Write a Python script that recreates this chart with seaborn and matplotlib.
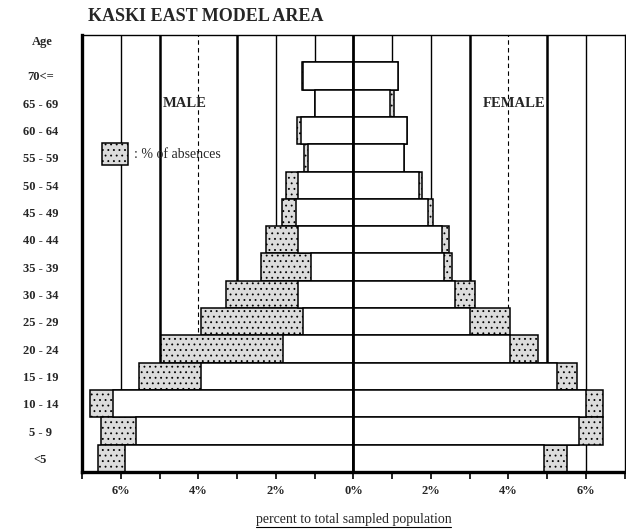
import matplotlib
matplotlib.use("Agg")
import matplotlib.pyplot as plt
import seaborn as sns
import pandas as pd
from matplotlib.lines import Line2D

# Data (percent of total sampled population)
age_groups = ["70<=", "65 - 69", "60 - 64", "55 - 59", "50 - 54", "45 - 49", "40 - 44",
              "35 - 39", "30 - 34", "25 - 29", "20 - 24", "15 - 19", "10 - 14", "5 - 9", "<5"]
male_present = [1.30, 1.00, 1.35, 1.17, 1.42, 1.48, 1.42, 1.09, 1.42, 1.30, 1.81, 3.94, 6.19, 5.60, 5.90]
male_absent = [0.02, 0.00, 0.10, 0.10, 0.32, 0.37, 0.83, 1.29, 1.87, 2.64, 3.14, 1.58, 0.60, 0.90, 0.70]
female_present = [1.15, 0.95, 1.38, 1.30, 1.70, 1.93, 2.28, 2.33, 2.62, 3.00, 4.04, 5.26, 6.00, 5.83, 4.92]
female_absent = [0.00, 0.10, 0.00, 0.00, 0.08, 0.12, 0.18, 0.21, 0.51, 1.04, 0.73, 0.52, 0.45, 0.62, 0.60]
tick_values = [-6, -4, -2, 0, 2, 4, 6]
tick_labels = ["6%", "4%", "2%", "0%", "2%", "4%", "6%"]

df = pd.DataFrame({
    "Age": age_groups,
    "male_total": [-(p + a) for p, a in zip(male_present, male_absent)],
    "male_present": [-p for p in male_present],
    "female_total": [p + a for p, a in zip(female_present, female_absent)],
    "female_present": female_present,
})

sns.set_theme(style="white")
plt.rcParams["font.family"] = ["Liberation Serif", "DejaVu Serif"]
plt.rcParams["font.weight"] = "bold"
plt.rcParams["hatch.color"] = "#8a8a8a"
plt.rcParams["hatch.linewidth"] = 0.6

fig = plt.figure(figsize=(6.26, 5.30), dpi=100)
ax = fig.add_axes([0.131, 0.1094, 0.867, 0.8246])

# absences (grey, stippled) drawn first, present population (white) on top
bar_kw = dict(y="Age", orient="h", width=1.0, saturation=1, errorbar=None,
              edgecolor="black", linewidth=1.1, ax=ax)
sns.barplot(data=df, x="male_total", color="#dcdcdc", hatch="...", **bar_kw)
sns.barplot(data=df, x="female_total", color="#dcdcdc", hatch="...", **bar_kw)
sns.barplot(data=df, x="male_present", color="white", **bar_kw)
sns.barplot(data=df, x="female_present", color="white", **bar_kw)

# vertical grid
for v in range(-6, 7):
    if v == 0:
        ax.axvline(v, color="black", lw=2.0, zorder=3)
    elif abs(v) in (3, 5):
        ax.axvline(v, color="black", lw=1.8, zorder=0)
    elif abs(v) == 4:
        ax.axvline(v, color="black", lw=0.8, ls=(0, (4, 3)), zorder=0)
    else:
        ax.axvline(v, color="black", lw=1.0, zorder=0)

ax.set_xlim(-7, 7)
ax.set_ylim(len(age_groups) - 0.5, -1.5)
ax.set_yticks(range(len(age_groups)))
ax.set_yticklabels(age_groups, ha="center", fontsize=9, fontweight="bold")
ax.set_xticks(tick_values)
ax.set_xticklabels(tick_labels, fontsize=9, fontweight="bold")
ax.set_xticks(range(-7, 8), minor=True)
ax.tick_params(axis="y", length=0, pad=30)
ax.tick_params(axis="x", which="both", bottom=True, length=5, width=1.2, pad=4, color="black")
ax.set_ylabel("")
ax.set_xlabel("percent to total sampled population", fontsize=10, fontweight="normal", labelpad=12)

# header above the age labels
fig.text(42 / 626, 1 - 42 / 530, "Age", fontsize=9, fontweight="bold", ha="center", va="center")

for side in ["left", "bottom"]:
    ax.spines[side].set_linewidth(2.4)
for side in ["top", "right"]:
    ax.spines[side].set_linewidth(1.0)
for s in ax.spines.values():
    s.set_color("black")

ax.text(-4.35, 1.0, "MALE", fontsize=10.5, fontweight="bold", va="center", ha="center")
ax.text(4.15, 1.0, "FEMALE", fontsize=10.5, fontweight="bold", va="center", ha="center")

ax.legend(handles=[ax.patches[0]], labels=[": % of absences"], loc="upper left",
          bbox_to_anchor=(0.024, 0.768), frameon=False,
          handlelength=1.9, handleheight=2.0, handletextpad=0.4, borderpad=0,
          prop={"weight": "normal", "size": 10})

fig.text(0.14, 0.968, "KASKI EAST MODEL AREA", fontsize=13, fontweight="bold", va="center", ha="left")

# underline the axis label
fig.canvas.draw()
bb = ax.xaxis.label.get_window_extent().transformed(fig.transFigure.inverted())
fig.add_artist(Line2D([bb.x0, bb.x1], [bb.y0 - 0.002, bb.y0 - 0.002], color="black", lw=0.8))

fig.savefig("out.png", dpi=100)
